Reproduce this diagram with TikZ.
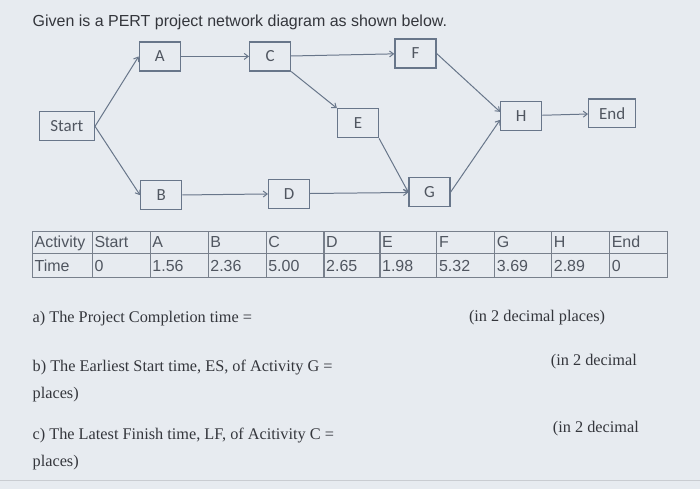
\documentclass[tikz,border=0pt]{standalone}
\usepackage{fontspec}
\setmainfont{Liberation Serif}
\setsansfont{Liberation Sans}
\newfontfamily\boxfont{Carlito}
\usetikzlibrary{arrows.meta}
\definecolor{pbg}{RGB}{231,235,240}
\definecolor{pline}{RGB}{104,118,138}
\definecolor{ptext}{RGB}{80,86,96}
\definecolor{pdark}{RGB}{52,54,60}
\definecolor{pgrid}{RGB}{120,128,140}

\begin{document}
\begin{tikzpicture}[x=1pt,y=-1pt,
  act/.style={draw=pline,line width=1.3pt,minimum width=41pt,minimum height=29pt,inner sep=0pt,text=ptext,font=\boxfont\fontsize{17}{17}\selectfont},
  link/.style={pline,line width=1pt,-{Straight Barb[length=4pt,width=6pt]}},
  cell/.style={anchor=base west,inner sep=0pt,text=ptext,font=\sffamily\fontsize{16}{16}\selectfont},
  qtext/.style={anchor=base west,inner sep=0pt,text=pdark,font=\fontsize{16.3}{16.3}\selectfont}]
% Background
\fill[pbg] (0,0) rectangle (700,490);
\draw[pgrid!40,line width=1pt] (0,481) -- (700,481);
% Title
\node[anchor=base west,inner sep=0pt,text=pdark,font=\sffamily\fontsize{16}{16}\selectfont] (title) at (32,27) {Given is a PERT project network diagram as shown below.};
% Activities
\node[act,minimum width=55pt] (start) at (66.5,126.5) {Start};
\node[act] (a) at (159.5,56.5) {A};
\node[act] (c) at (270,56.5) {C};
\node[act] (f) at (415.5,53.5) {F};
\node[act] (e) at (358,123.5) {E};
\node[act] (h) at (521.5,116) {H};
\node[act,minimum width=47pt] (end) at (612.5,113.5) {End};
\node[act] (b) at (161,195.5) {B};
\node[act] (d) at (289,194) {D};
\node[act] (g) at (429.5,192.5) {G};
% Precedences
\draw[link] (start.east) -- (a.west);
\draw[link] (start.east) -- (b.west);
\draw[link] (a) -- (c);
\draw[link] (c) -- (f);
\draw[link] (c.south east) -- (e.north west);
\draw[link] (f.east) -- ([yshift=4pt]h.west);
\draw[link] (e.south east) -- (g.west);
\draw[link] (b) -- (d);
\draw[link] (d) -- (g);
\draw[link] (g.east) -- ([yshift=-4pt]h.west);
\draw[link] (h) -- (end);
% Table
\draw[pgrid,line width=1.2pt] (32,232) rectangle (668,278);
\draw[pgrid,line width=1.2pt] (32,254) -- (668,254);
\foreach \x in {92,150,208,266,324,380,437,495,552,610}
  \draw[pgrid,line width=1.2pt] (\x,232) -- (\x,278);
\foreach \x/\name/\dur [count=\i] in {32/Activity/Time, 92/Start/0, 150/A/1.56, 208/B/2.36, 266/C/5.00, 324/D/2.65, 380/E/1.98, 437/F/5.32, 495/G/3.69, 552/H/2.89, 610/End/0} {
  \node[cell] (act\i) at (\x+2,248) {\name};
  \node[cell] (time\i) at (\x+2,272) {\dur};
}
% Questions
\node[qtext] (qa) at (32,323) {a) The Project Completion time =};
\node[qtext] (qanote) at (469,322) {(in 2 decimal places)};
\node[qtext] (qb) at (32,372) {b) The Earliest Start time, ES, of Activity G =};
\node[qtext] (qbnote) at (551,366) {(in 2 decimal};
\node[qtext] (qbmore) at (32,399) {places)};
\node[qtext] (qc) at (32,440) {c) The Latest Finish time, LF, of Acitivity C =};
\node[qtext] (qcnote) at (553,433) {(in 2 decimal};
\node[qtext] (qcmore) at (32,467) {places)};
\end{tikzpicture}
\end{document}
